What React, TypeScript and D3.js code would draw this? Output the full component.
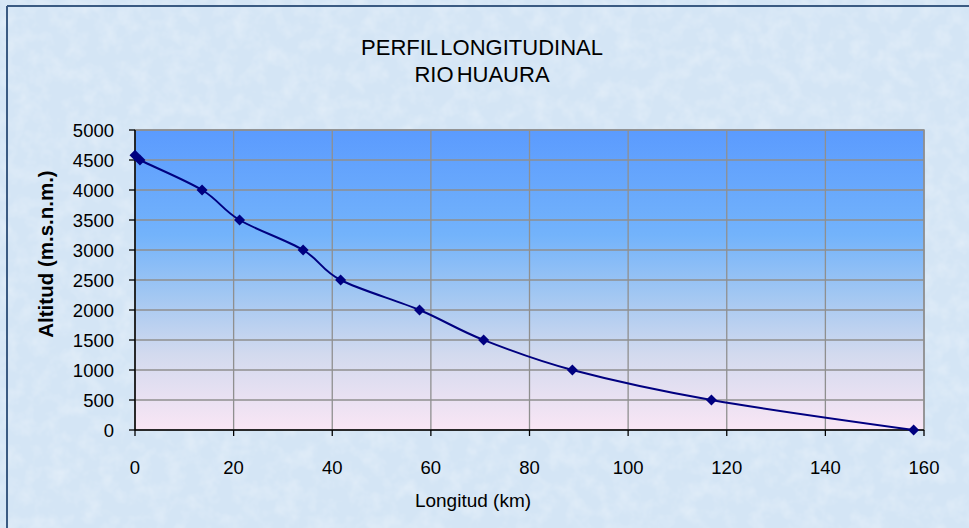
import React from "react";
import * as d3 from "d3";

const distanciaKm = [0, 1, 13.6, 21.2, 34.1, 41.7, 57.7, 70.7, 88.7, 116.9, 157.9];
const altitudM = [4580, 4500, 4000, 3500, 3000, 2500, 2000, 1500, 1000, 500, 0];
const xTicks = [0, 20, 40, 60, 80, 100, 120, 140, 160];
const yTicks = [0, 500, 1000, 1500, 2000, 2500, 3000, 3500, 4000, 4500, 5000];
const titleLines = ["PERFIL LONGITUDINAL", "RIO HUAURA"];

const W = 969;
const H = 528;
const plot = { left: 135, right: 924, top: 130, bottom: 430 };

export default function App() {
  const x = d3.scaleLinear().domain([0, 160]).range([plot.left, plot.right]);
  const y = d3.scaleLinear().domain([0, 5000]).range([plot.bottom, plot.top]);
  const pts = distanciaKm.map((d, i) => [x(d), y(altitudM[i])] as [number, number]);
  const line = d3.line().curve(d3.curveCardinal.tension(0))(pts) || "";
  const font = "'Liberation Sans', Arial, sans-serif";

  return (
    <svg
      width={W}
      height={H}
      style={{ position: "absolute", left: 0, top: 0, display: "block" }}
      fontFamily={font}
    >
      <defs>
        <linearGradient id="plotGrad" x1="0" y1="0" x2="0" y2="1">
          <stop offset="0" stopColor="#5B9BFE" />
          <stop offset="0.35" stopColor="#73B3FB" />
          <stop offset="0.55" stopColor="#A2C7F2" />
          <stop offset="0.75" stopColor="#D3DAEE" />
          <stop offset="1" stopColor="#F9E6F5" />
        </linearGradient>
        <filter id="tex" x="0" y="0" width="100%" height="100%">
          <feTurbulence type="fractalNoise" baseFrequency="0.06" numOctaves="3" seed="3" />
          <feColorMatrix
            type="matrix"
            values="0 0 0 0 1  0 0 0 0 1  0 0 0 0 1  0 0 0 0.55 -0.22"
          />
        </filter>
      </defs>
      <rect x={0} y={0} width={W} height={H} fill="#D4E5F5" />
      <rect x={0} y={0} width={W} height={H} filter="url(#tex)" />
      <line x1={7} y1={6} x2={W} y2={6} stroke="#3A5A82" strokeWidth={2} />
      <line x1={7} y1={6} x2={7} y2={H} stroke="#3A5A82" strokeWidth={2} />

      {titleLines.map((t, i) => (
        <text key={t} x={482} y={55 + i * 27} textAnchor="middle" fontSize={22} fill="#000" wordSpacing={-3}>
          {t}
        </text>
      ))}

      <rect
        x={plot.left}
        y={plot.top}
        width={plot.right - plot.left}
        height={plot.bottom - plot.top}
        fill="url(#plotGrad)"
        stroke="#8C8C8C"
        strokeWidth={1.5}
      />
      {yTicks.slice(1).map((t) => (
        <line key={"gy" + t} x1={plot.left} x2={plot.right} y1={y(t)} y2={y(t)} stroke="#8F8F8F" strokeWidth={1.3} />
      ))}
      {xTicks.slice(1).map((t) => (
        <line key={"gx" + t} x1={x(t)} x2={x(t)} y1={plot.top} y2={plot.bottom} stroke="#8F8F8F" strokeWidth={1.3} />
      ))}

      <line x1={plot.left} x2={plot.left} y1={plot.top} y2={plot.bottom} stroke="#000" strokeWidth={1.5} />
      <line x1={plot.left} x2={plot.right} y1={plot.bottom} y2={plot.bottom} stroke="#000" strokeWidth={1.5} />
      {yTicks.map((t) => (
        <g key={"ty" + t}>
          <line x1={plot.left - 6} x2={plot.left} y1={y(t)} y2={y(t)} stroke="#000" strokeWidth={1.3} />
          <text x={plot.left - 21} y={y(t) + 7} textAnchor="end" fontSize={18.5} fill="#000">
            {t}
          </text>
        </g>
      ))}
      {xTicks.map((t) => (
        <g key={"tx" + t}>
          <line x1={x(t)} x2={x(t)} y1={plot.bottom} y2={plot.bottom + 6} stroke="#000" strokeWidth={1.3} />
          <text x={x(t)} y={plot.bottom + 44} textAnchor="middle" fontSize={18.5} fill="#000">
            {t}
          </text>
        </g>
      ))}

      <path d={line} fill="none" stroke="#000080" strokeWidth={2} />
      {pts.map(([px, py], i) => (
        <path key={"m" + i} d={`M${px},${py - 5.5}L${px + 5.5},${py}L${px},${py + 5.5}L${px - 5.5},${py}Z`} fill="#000080" />
      ))}

      <text x={473} y={507} textAnchor="middle" fontSize={19} fill="#000">
        Longitud (km)
      </text>
      <text
        transform={`translate(53,254) rotate(-90)`}
        textAnchor="middle"
        fontSize={20.5}
        fontWeight="bold"
        fill="#000"
      >
        Altitud (m.s.n.m.)
      </text>
    </svg>
  );
}
